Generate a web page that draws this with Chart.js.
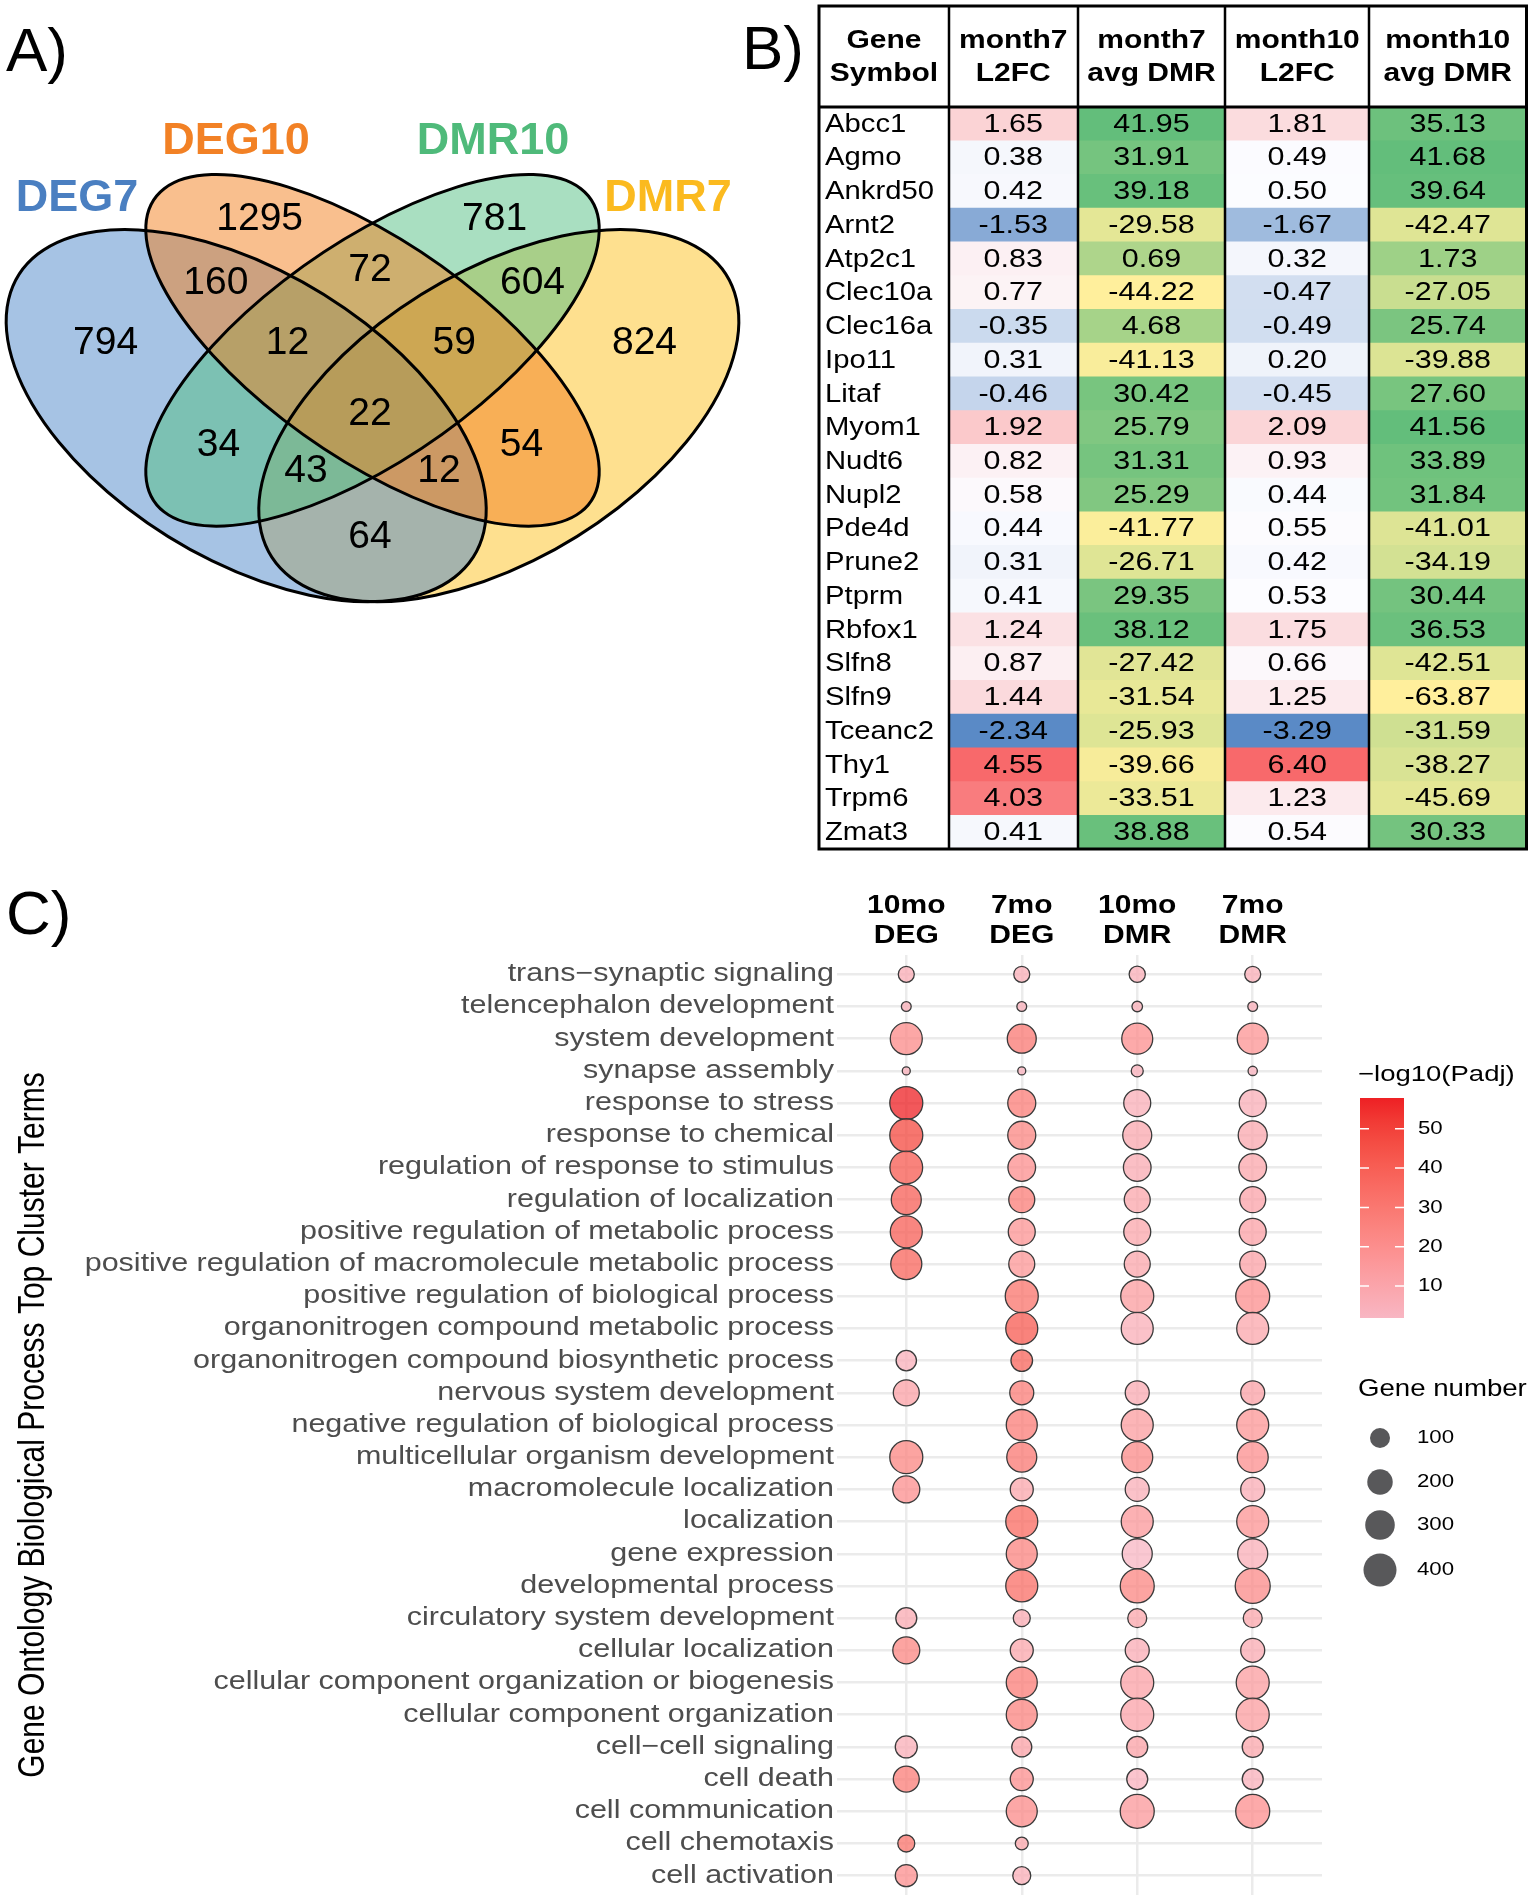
<!DOCTYPE html>
<html>
<head>
<meta charset="utf-8">
<script src="https://cdn.jsdelivr.net/npm/chart.js@4.4.0/dist/chart.umd.min.js"></script>
<style>
  body { margin: 0; background: #fff; }
  #page { position: relative; width: 1535px; height: 1902px; overflow: hidden; font-family: "Liberation Sans", Arial, sans-serif; }
  .box { position: absolute; }
  .panel { position: absolute; font-size: 62px; line-height: 62px; color: #000; }
</style>
</head>
<body>
<div id="page">
  <div class="box" style="left:0;top:60px;width:800px;height:670px"><canvas id="venn"></canvas></div>
  <div class="box" style="left:810px;top:0;width:725px;height:860px"><canvas id="table"></canvas></div>
  <div class="box" style="left:0;top:880px;width:1535px;height:1022px"><canvas id="dots"></canvas></div>
  <div class="panel" style="left:6px;top:19px">A)</div>
  <div class="panel" style="left:742px;top:17px">B)</div>
  <div class="panel" style="left:6px;top:882px">C)</div>
</div>
<script>
const FONT = '"Liberation Sans", Arial, sans-serif';
Chart.defaults.font.family = FONT;
Chart.defaults.animation = false;

// ---------- A) Venn data ----------
const vennSets = ['DEG7', 'DEG10', 'DMR10', 'DMR7'];
const vennRegions = ['DEG7', 'DEG10', 'DMR10', 'DMR7', 'DEG7+DEG10', 'DEG10+DMR10', 'DMR10+DMR7',
  'DEG7+DEG10+DMR10', 'DEG10+DMR10+DMR7', 'all', 'DEG7+DMR10', 'DEG10+DMR7',
  'DEG7+DMR10+DMR7', 'DEG7+DEG10+DMR7', 'DEG7+DMR7'];
const vennCounts = [794, 1295, 781, 824, 160, 72, 604, 12, 59, 22, 34, 54, 43, 12, 64];

// ---------- B) table data ----------
const genes = ['Abcc1', 'Agmo', 'Ankrd50', 'Arnt2', 'Atp2c1', 'Clec10a', 'Clec16a', 'Ipo11', 'Litaf', 'Myom1', 'Nudt6',
  'Nupl2', 'Pde4d', 'Prune2', 'Ptprm', 'Rbfox1', 'Slfn8', 'Slfn9', 'Tceanc2', 'Thy1', 'Trpm6', 'Zmat3'];
const m7L2FC = [1.65, 0.38, 0.42, -1.53, 0.83, 0.77, -0.35, 0.31, -0.46, 1.92, 0.82, 0.58, 0.44, 0.31, 0.41, 1.24, 0.87, 1.44, -2.34, 4.55, 4.03, 0.41];
const m7DMR = [41.95, 31.91, 39.18, -29.58, 0.69, -44.22, 4.68, -41.13, 30.42, 25.79, 31.31, 25.29, -41.77, -26.71, 29.35, 38.12, -27.42, -31.54, -25.93, -39.66, -33.51, 38.88];
const m10L2FC = [1.81, 0.49, 0.50, -1.67, 0.32, -0.47, -0.49, 0.20, -0.45, 2.09, 0.93, 0.44, 0.55, 0.42, 0.53, 1.75, 0.66, 1.25, -3.29, 6.40, 1.23, 0.54];
const m10DMR = [35.13, 41.68, 39.64, -42.47, 1.73, -27.05, 25.74, -39.88, 27.60, 41.56, 33.89, 31.84, -41.01, -34.19, 30.44, 36.53, -42.51, -63.87, -31.59, -38.27, -45.69, 30.33];
const tableHeaders = [['Gene', 'Symbol'], ['month7', 'L2FC'], ['month7', 'avg DMR'], ['month10', 'L2FC'], ['month10', 'avg DMR']];

// ---------- C) GO bubble data ----------
const goTerms = ['trans\u2212synaptic signaling', 'telencephalon development', 'system development', 'synapse assembly',
  'response to stress', 'response to chemical', 'regulation of response to stimulus', 'regulation of localization',
  'positive regulation of metabolic process', 'positive regulation of macromolecule metabolic process',
  'positive regulation of biological process', 'organonitrogen compound metabolic process',
  'organonitrogen compound biosynthetic process', 'nervous system development', 'negative regulation of biological process',
  'multicellular organism development', 'macromolecule localization', 'localization', 'gene expression',
  'developmental process', 'circulatory system development', 'cellular localization',
  'cellular component organization or biogenesis', 'cellular component organization', 'cell\u2212cell signaling',
  'cell death', 'cell communication', 'cell chemotaxis', 'cell activation'];
const groups = ['10mo DEG', '7mo DEG', '10mo DMR', '7mo DMR'];
const genes10moDEG = [50, 12, 368, 10, 399, 399, 390, 311, 368, 340, null, null, 105, 211, null, 399, 234, null, null, null, 115, 234, null, null, 132, 211, null, 60, 132];
const genes7moDEG = [50, 12, 283, 10, 259, 259, 250, 211, 234, 211, 399, 368, 125, 169, 339, 311, 150, 368, 339, 368, 60, 150, 339, 339, 100, 150, 339, 25, 72];
const genes10moDMR = [52, 14, 339, 20, 234, 284, 250, 211, 234, 211, 399, 368, null, 169, 368, 339, 169, 368, 311, 430, 85, 169, 399, 399, 115, 115, 430, null, null];
const genes7moDMR = [50, 12, 339, 11, 234, 284, 250, 211, 234, 211, 430, 368, null, 169, 368, 339, 169, 368, 311, 463, 85, 169, 399, 399, 115, 115, 430, null, null];
const logp10moDEG = [7, 6, 22, 5, 57.8, 48, 42, 40, 40, 38, null, null, 5, 12, null, 24, 20, null, null, null, 8, 24, null, null, 6, 28, null, 32, 20];
const logp7moDEG = [6, 5, 30, 4, 28, 24, 20, 28, 18, 17, 32, 42, 38, 28, 28, 30, 10, 36, 25, 34, 8, 10, 28, 25, 12, 20, 22, 10, 6];
const logp10moDMR = [6, 6, 20, 5, 6, 9, 8, 10, 10, 10, 14, 6, null, 8, 14, 22, 6, 16, 1.9, 24, 10, 7, 12, 11, 12, 4, 16, null, null];
const logp7moDMR = [6, 5, 18, 4, 6, 9, 10, 11, 12, 12, 20, 10, null, 12, 17, 20, 7, 18, 6, 22, 10, 8, 14, 14, 10, 5, 20, null, null];
const legendSizes = [100, 200, 300, 400];
const legendTicks = [10, 20, 30, 40, 50];

// ---------- helpers ----------
function hex(c) { return [parseInt(c.slice(1, 3), 16), parseInt(c.slice(3, 5), 16), parseInt(c.slice(5, 7), 16)]; }
function rgbStr(v, a) { return a == null ? `rgb(${v[0]},${v[1]},${v[2]})` : `rgba(${v[0]},${v[1]},${v[2]},${a})`; }
function mix(c1, c2, t, a) {
  const p = hex(c1), q = hex(c2);
  return rgbStr(p.map((x, i) => Math.round(x + (q[i] - x) * t)), a);
}
function toLin(c) { c /= 255; return c <= 0.04045 ? c / 12.92 : Math.pow((c + 0.055) / 1.055, 2.4); }
function fromLin(c) {
  c = c <= 0.0031308 ? 12.92 * c : 1.055 * Math.pow(c, 1 / 2.4) - 0.055;
  return Math.round(Math.max(0, Math.min(1, c)) * 255);
}
function rgb2lab(rgb) {
  const [r, g, b] = rgb.map(toLin);
  const x = (0.4124 * r + 0.3576 * g + 0.1805 * b) / 0.95047;
  const y = 0.2126 * r + 0.7152 * g + 0.0722 * b;
  const z = (0.0193 * r + 0.1192 * g + 0.9505 * b) / 1.08883;
  const f = t => t > 0.008856 ? Math.cbrt(t) : 7.787 * t + 16 / 116;
  const fx = f(x), fy = f(y), fz = f(z);
  return [116 * fy - 16, 500 * (fx - fy), 200 * (fy - fz)];
}
function lab2rgb(lab) {
  const fy = (lab[0] + 16) / 116, fx = fy + lab[1] / 500, fz = fy - lab[2] / 200;
  const fi = t => t * t * t > 0.008856 ? t * t * t : (t - 16 / 116) / 7.787;
  const x = fi(fx) * 0.95047, y = fi(fy), z = fi(fz) * 1.08883;
  return [3.2406 * x - 1.5372 * y - 0.4986 * z, -0.9689 * x + 1.8758 * y + 0.0415 * z, 0.0557 * x - 0.2040 * y + 1.0570 * z].map(fromLin);
}
function mixLab(c1, c2, t, a) {
  const p = rgb2lab(hex(c1)), q = rgb2lab(hex(c2));
  return rgbStr(lab2rgb(p.map((x, i) => x + (q[i] - x) * t)), a);
}
function stretchText(ctx, text, x, y, sx, align) {
  ctx.save();
  ctx.translate(x, y);
  ctx.scale(sx, 1);
  ctx.textAlign = align;
  ctx.fillText(text, 0, 0);
  ctx.restore();
}

// ---------- A) Venn chart ----------
const vennTextColors = ['#4a7fc1', '#f28125', '#4fba7a', '#fbba1f'];
const vennFills = ['#4d87c9', '#f37f1d', '#53bf83', '#fdc11f'];
const vennEllipses = [
  { cx: 0.35, cy: 0.47, a: 0.35, b: 0.20, rot: -45 },
  { cx: 0.50, cy: 0.57, a: 0.35, b: 0.15, rot: -45 },
  { cx: 0.50, cy: 0.57, a: 0.35, b: 0.15, rot: 45 },
  { cx: 0.65, cy: 0.47, a: 0.35, b: 0.20, rot: 45 }
];
const vennFillOrder = [3, 0, 2, 1];
const vennLabelAt = [[0.183, 0.581], [0.366, 0.771], [0.645, 0.771], [0.823, 0.581], [0.314, 0.672], [0.497, 0.692],
  [0.690, 0.672], [0.399, 0.581], [0.597, 0.581], [0.497, 0.472], [0.317, 0.424], [0.677, 0.424], [0.421, 0.385],
  [0.579, 0.385], [0.497, 0.284]];
const vennSetLabelAt = [[0.149, 0.803], [0.338, 0.890], [0.643, 0.890], [0.851, 0.803]];

function ellipsePath(chart, e) {
  const ctx = chart.ctx, xs = chart.scales.x, ys = chart.scales.y;
  const sx = xs.getPixelForValue(1) - xs.getPixelForValue(0);
  const sy = ys.getPixelForValue(0) - ys.getPixelForValue(1);
  ctx.save();
  ctx.translate(xs.getPixelForValue(e.cx), ys.getPixelForValue(e.cy));
  ctx.scale(sx, -sy);
  ctx.rotate(e.rot * Math.PI / 180);
  ctx.beginPath();
  ctx.ellipse(0, 0, e.a, e.b, 0, 0, Math.PI * 2);
  ctx.restore();
}

const vennPlugin = {
  id: 'venn',
  beforeDatasetsDraw(chart) {
    const ctx = chart.ctx;
    vennFillOrder.forEach(i => {
      ellipsePath(chart, vennEllipses[i]);
      ctx.fillStyle = mix(vennFills[i], vennFills[i], 0, 0.5);
      ctx.fill();
    });
    ctx.lineWidth = 3;
    ctx.strokeStyle = '#000';
    vennEllipses.forEach(e => { ellipsePath(chart, e); ctx.stroke(); });
  },
  afterDatasetsDraw(chart) {
    const ctx = chart.ctx, xs = chart.scales.x, ys = chart.scales.y;
    const meta = chart.getDatasetMeta(0);
    ctx.save();
    ctx.fillStyle = '#000';
    ctx.font = '39px ' + FONT;
    ctx.textAlign = 'center';
    ctx.textBaseline = 'middle';
    meta.data.forEach((pt, i) => ctx.fillText(String(vennCounts[i]), pt.x, pt.y));
    ctx.font = 'bold 45px ' + FONT;
    vennSets.forEach((s, i) => {
      ctx.fillStyle = vennTextColors[i];
      ctx.fillText(s, xs.getPixelForValue(vennSetLabelAt[i][0]), ys.getPixelForValue(vennSetLabelAt[i][1]));
    });
    ctx.restore();
  }
};

new Chart(document.getElementById('venn'), {
  type: 'scatter',
  data: {
    labels: vennRegions,
    datasets: [{
      data: vennCounts.map((c, i) => ({ x: vennLabelAt[i][0], y: vennLabelAt[i][1] })),
      pointRadius: 0
    }]
  },
  options: {
    responsive: true, maintainAspectRatio: false, events: [],
    layout: { padding: 0, autoPadding: false },
    plugins: { legend: { display: false }, tooltip: { enabled: false } },
    scales: {
      x: { display: false, min: 0.0576, max: 1.0077 },
      y: { display: false, min: -0.0115, max: 1.0147 }
    }
  },
  plugins: [vennPlugin]
});

// ---------- B) table chart ----------
const colEdges = [0, 130, 258.5, 406.5, 550, 707.5];
const tableCols = [null, m7L2FC, m7DMR, m10L2FC, m10DMR];

function percentile(arr, p) {
  const s = arr.slice().sort((a, b) => a - b);
  const k = (s.length - 1) * p, f = Math.floor(k);
  return s[f] + (s[Math.min(f + 1, s.length - 1)] - s[f]) * (k - f);
}
function threeColor(arr, v) {
  const lo = Math.min(...arr), hi = Math.max(...arr), mid = percentile(arr, 0.5);
  if (v <= mid) return mix('#5a8ac6', '#fcfcff', (v - lo) / (mid - lo));
  return mix('#fcfcff', '#f8696b', (v - mid) / (hi - mid));
}
function twoColor(arr, v) {
  const lo = Math.min(...arr), hi = Math.max(...arr);
  return mix('#ffef9c', '#63be7b', (v - lo) / (hi - lo));
}
function cellColor(c, i) {
  if (c === 0) return '#ffffff';
  const arr = tableCols[c];
  return (c === 1 || c === 3) ? threeColor(arr, arr[i]) : twoColor(arr, arr[i]);
}

const tablePlugin = {
  id: 'tableText',
  afterDatasetsDraw(chart) {
    const ctx = chart.ctx, xs = chart.scales.x, ys = chart.scales.y, area = chart.chartArea;
    const top = 6;
    ctx.save();
    ctx.fillStyle = '#000';
    ctx.textBaseline = 'middle';
    ctx.font = 'bold 25px ' + FONT;
    tableHeaders.forEach((h, c) => {
      const cx = (xs.getPixelForValue(colEdges[c]) + xs.getPixelForValue(colEdges[c + 1])) / 2;
      stretchText(ctx, h[0], cx, 41, 1.2, 'center');
      stretchText(ctx, h[1], cx, 74, 1.2, 'center');
    });
    ctx.font = '25px ' + FONT;
    genes.forEach((g, i) => {
      const y = ys.getPixelForValue(i) + 1;
      stretchText(ctx, g, xs.getPixelForValue(colEdges[0]) + 6, y, 1.17, 'left');
      for (let c = 1; c < tableCols.length; c++) {
        const cx = (xs.getPixelForValue(colEdges[c]) + xs.getPixelForValue(colEdges[c + 1])) / 2;
        stretchText(ctx, tableCols[c][i].toFixed(2), cx, y, 1.22, 'center');
      }
    });
    ctx.strokeStyle = '#000';
    ctx.lineWidth = 2.5;
    for (let c = 1; c < colEdges.length - 1; c++) {
      const x = Math.round(xs.getPixelForValue(colEdges[c]));
      ctx.beginPath(); ctx.moveTo(x, top); ctx.lineTo(x, area.bottom); ctx.stroke();
    }
    ctx.lineWidth = 3;
    ctx.beginPath(); ctx.moveTo(area.left, area.top); ctx.lineTo(area.right, area.top); ctx.stroke();
    ctx.strokeRect(area.left, top, area.right - area.left, area.bottom - top);
    ctx.restore();
  }
};

new Chart(document.getElementById('table'), {
  type: 'bar',
  data: {
    labels: genes,
    datasets: tableHeaders.map((h, c) => ({
      label: h.join(' '),
      data: genes.map(() => [colEdges[c], colEdges[c + 1]]),
      backgroundColor: ctx => cellColor(c, ctx.dataIndex),
      borderWidth: 0,
      grouped: false,
      barPercentage: 1,
      categoryPercentage: 1
    }))
  },
  options: {
    indexAxis: 'y',
    responsive: true, maintainAspectRatio: false, events: [],
    layout: { padding: { left: 9, right: 8.5, top: 107, bottom: 11 }, autoPadding: false },
    plugins: { legend: { display: false }, tooltip: { enabled: false } },
    scales: {
      x: { display: false, min: 0, max: colEdges[colEdges.length - 1] },
      y: { display: false }
    }
  },
  plugins: [tablePlugin]
});

// ---------- C) bubble chart ----------
const groupGenes = [genes10moDEG, genes7moDEG, genes10moDMR, genes7moDMR];
const groupLogP = [logp10moDEG, logp7moDEG, logp10moDMR, logp7moDMR];
const allP = groupLogP.flat().filter(v => v != null);
const pMin = Math.min(...allP), pMax = Math.max(...allP);
const lowCol = '#f8b6c3', highCol = '#ee2024';

function sizeD(n) { return 8 + 26.6 * Math.sqrt(Math.max(0, n - 10) / 440); }
function pColor(p, a) { return mixLab(lowCol, highCol, (p - pMin) / (pMax - pMin), a); }

const dotPlugin = {
  id: 'dotText',
  afterDraw(chart) {
    const ctx = chart.ctx, xs = chart.scales.x, ys = chart.scales.y, area = chart.chartArea;
    ctx.save();
    ctx.textBaseline = 'middle';
    // row labels
    ctx.fillStyle = '#4d4d4d';
    ctx.font = '25px ' + FONT;
    goTerms.forEach((t, i) => stretchText(ctx, t, area.left - 3, ys.getPixelForValue(i), 1.22, 'right'));
    // column labels
    ctx.fillStyle = '#000';
    ctx.font = 'bold 25px ' + FONT;
    groups.forEach((g, i) => {
      const parts = g.split(' ');
      stretchText(ctx, parts[0], xs.getPixelForValue(i), 26, 1.2, 'center');
      stretchText(ctx, parts[1], xs.getPixelForValue(i), 56, 1.2, 'center');
    });
    // axis title
    ctx.save();
    ctx.translate(34, (area.top + area.bottom) / 2);
    ctx.rotate(-Math.PI / 2);
    ctx.scale(1, 1.2);
    ctx.font = '30px ' + FONT;
    ctx.textAlign = 'center';
    ctx.fillText('Gene Ontology Biological Process Top Cluster Terms', 0, 0);
    ctx.restore();
    // colour legend
    const bx = 1360, bw = 44, by0 = 218, by1 = 438;
    const grad = ctx.createLinearGradient(0, by1, 0, by0);
    for (let k = 0; k <= 10; k++) grad.addColorStop(k / 10, pColor(pMin + (pMax - pMin) * k / 10));
    ctx.fillStyle = grad;
    ctx.fillRect(bx, by0, bw, by1 - by0);
    ctx.fillStyle = '#000';
    ctx.font = '22px ' + FONT;
    stretchText(ctx, '\u2212log10(Padj)', 1358, 195, 1.25, 'left');
    ctx.font = '19px ' + FONT;
    ctx.strokeStyle = '#fff';
    ctx.lineWidth = 1.5;
    legendTicks.forEach(v => {
      const y = by1 - (v - pMin) / (pMax - pMin) * (by1 - by0);
      ctx.beginPath();
      ctx.moveTo(bx, y); ctx.lineTo(bx + 9, y);
      ctx.moveTo(bx + bw - 9, y); ctx.lineTo(bx + bw, y);
      ctx.stroke();
      stretchText(ctx, String(v), 1418, y, 1.17, 'left');
    });
    // size legend
    ctx.font = '24px ' + FONT;
    stretchText(ctx, 'Gene number', 1358, 509, 1.15, 'left');
    ctx.font = '19px ' + FONT;
    const ly = [558, 602, 645, 690];
    legendSizes.forEach((n, k) => {
      ctx.beginPath();
      ctx.arc(1380, ly[k], sizeD(n) / 2, 0, Math.PI * 2);
      ctx.fillStyle = '#58585a';
      ctx.fill();
      ctx.fillStyle = '#000';
      stretchText(ctx, String(n), 1417, ly[k], 1.17, 'left');
    });
    ctx.restore();
  }
};

new Chart(document.getElementById('dots'), {
  type: 'bubble',
  data: {
    datasets: groups.map((g, gi) => ({
      label: g,
      data: goTerms.map((t, ti) => groupGenes[gi][ti] == null ? null :
        { x: gi, y: ti, r: sizeD(groupGenes[gi][ti]) / 2, p: groupLogP[gi][ti] }).filter(Boolean),
      backgroundColor: c => (c.raw ? pColor(c.raw.p, 0.75) : 'rgba(0,0,0,0)'),
      borderColor: '#3a3a3a',
      borderWidth: 1.3,
      hoverRadius: 0
    }))
  },
  options: {
    responsive: true, maintainAspectRatio: false, events: [],
    layout: { padding: { left: 0, top: 0, right: 213, bottom: 7 }, autoPadding: false },
    plugins: { legend: { display: false }, tooltip: { enabled: false } },
    scales: {
      x: {
        type: 'linear', position: 'top', min: -0.6, max: 3.6,
        afterBuildTicks: s => { s.ticks = groups.map((g, i) => ({ value: i })); },
        afterFit: s => { s.height = 75; },
        ticks: { display: false },
        grid: { color: '#ebebeb', lineWidth: 2.5, drawTicks: false },
        border: { display: false }
      },
      y: {
        type: 'linear', reverse: true, min: -0.6, max: 28.6,
        afterBuildTicks: s => { s.ticks = goTerms.map((t, i) => ({ value: i })); },
        afterFit: s => { s.width = 837; },
        ticks: { display: false },
        grid: { color: '#ebebeb', lineWidth: 2.5, drawTicks: false },
        border: { display: false }
      }
    }
  },
  plugins: [dotPlugin]
});
</script>
</body>
</html>
